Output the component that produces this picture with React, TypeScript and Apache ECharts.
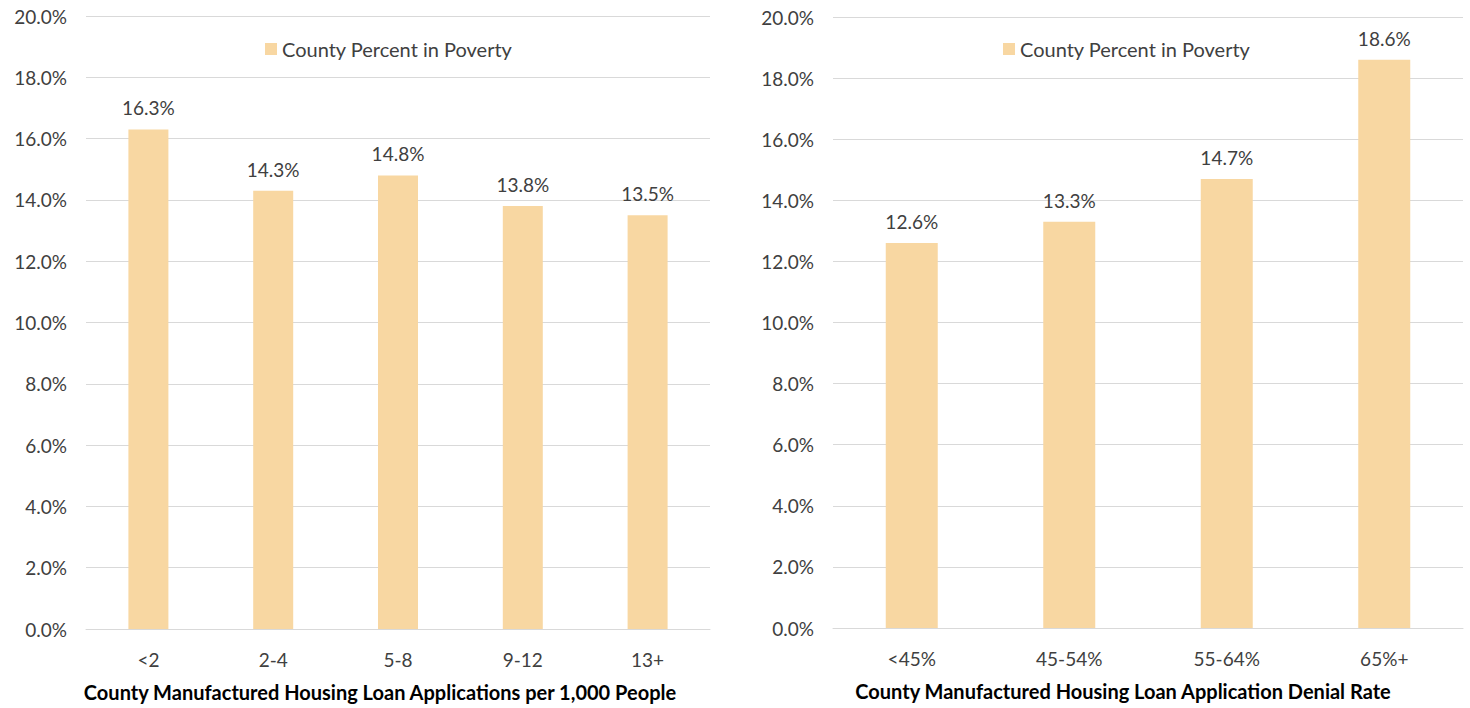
import React, { useEffect, useRef } from "react";
import * as echarts from "echarts";

const seriesName = "County Percent in Poverty";
const leftCategories = ["<2", "2-4", "5-8", "9-12", "13+"];
const leftValues = [16.3, 14.3, 14.8, 13.8, 13.5];
const rightCategories = ["<45%", "45-54%", "55-64%", "65%+"];
const rightValues = [12.6, 13.3, 14.7, 18.6];
const leftTitle = "County Manufactured Housing Loan Applications per 1,000 People";
const rightTitle = "County Manufactured Housing Loan Application Denial Rate";

const FONT = "Lato";
const TEXT = "#404040";
const BAR = "#F8D7A2";
const GRID = "#D9D9D9";

export default function App() {
  const ref = useRef<HTMLDivElement>(null);
  useEffect(() => {
    document.body.style.margin = "0";
    const chart = echarts.init(ref.current!, undefined, { renderer: "svg" });
    const xAxisBase = (idx: number, cats: string[], name: string, shift: number) => ({
      type: "category",
      gridIndex: idx,
      data: cats,
      name,
      nameLocation: "middle",
      nameGap: 53,
      nameTextStyle: {
        fontFamily: FONT,
        fontSize: 20,
        fontWeight: "bold",
        color: "#000",
        padding: [0, shift, 0, 0],
      },
      axisLine: { show: true, lineStyle: { color: GRID, width: 1 } },
      axisTick: { show: false },
      axisLabel: { fontFamily: FONT, fontSize: 19, color: TEXT, margin: 21 },
    });
    const yAxisBase = (idx: number) => ({
      type: "value",
      gridIndex: idx,
      min: 0,
      max: 20,
      interval: 2,
      axisLine: { show: false },
      axisTick: { show: false },
      splitLine: { lineStyle: { color: GRID, width: 1 } },
      axisLabel: {
        fontFamily: FONT,
        fontSize: 19,
        color: TEXT,
        margin: 19,
        formatter: (v: number) => v.toFixed(1) + "%",
      },
    });
    const seriesBase = (idx: number, data: number[], bw: number) => ({
      type: "bar",
      name: seriesName,
      xAxisIndex: idx,
      yAxisIndex: idx,
      data,
      barWidth: bw,
      itemStyle: { color: BAR },
      label: {
        show: true,
        position: "top",
        distance: 12,
        fontFamily: FONT,
        fontSize: 19,
        color: TEXT,
        formatter: (p: any) => p.value.toFixed(1) + "%",
      },
    });
    const legendBase = (left: number) => ({
      left,
      top: 34,
      data: [seriesName],
      icon: "rect",
      itemWidth: 12,
      itemHeight: 12,
      itemGap: 6,
      textStyle: { fontFamily: FONT, fontSize: 20, color: TEXT },
    });
    chart.setOption({
      animation: false,
      legend: [legendBase(260), legendBase(998)],
      grid: [
        { left: 86, right: 760, top: 16, bottom: 79, outerBoundsMode: "none", containLabel: false },
        { left: 833, right: 7, top: 17, bottom: 80, outerBoundsMode: "none", containLabel: false },
      ],
      xAxis: [
        xAxisBase(0, leftCategories, leftTitle, 36),
        xAxisBase(1, rightCategories, rightTitle, 50),
      ],
      yAxis: [yAxisBase(0), yAxisBase(1)],
      series: [seriesBase(0, leftValues, 40), seriesBase(1, rightValues, 52)],
    });
    return () => chart.dispose();
  }, []);
  return <div ref={ref} style={{ width: 1470, height: 708, background: "#fff" }} />;
}
